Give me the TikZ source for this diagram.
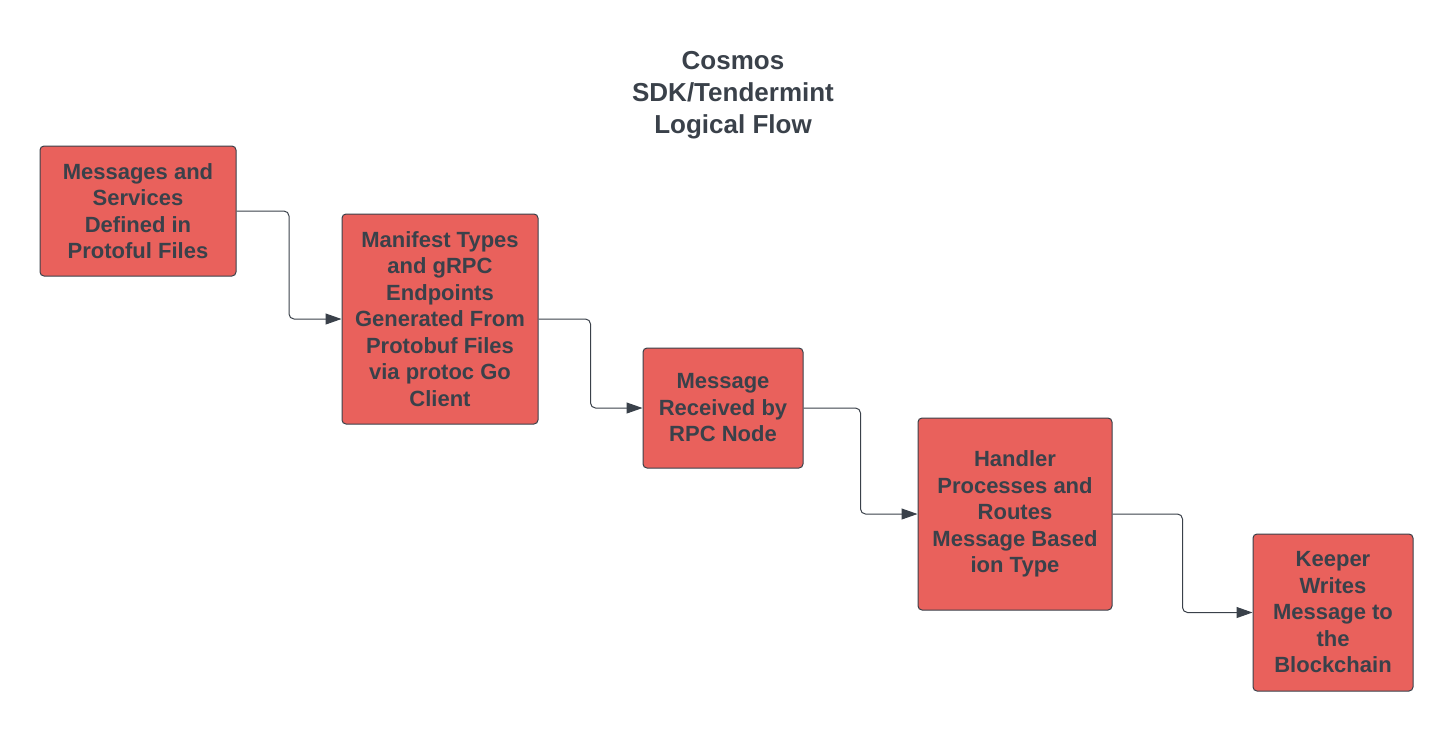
\documentclass[tikz,border=0pt]{standalone}
\usepackage{fontspec}
\setmainfont{Liberation Sans}
\usetikzlibrary{arrows.meta}
\definecolor{boxred}{HTML}{E9615C}
\definecolor{ink}{HTML}{3A414A}
\definecolor{edge}{HTML}{3A414A}
\tikzset{
  stepbox/.style={draw=edge, line width=1pt, fill=boxred, rounded corners=4pt,
    text=ink, font=\fontsize{22}{26.5}\selectfont\bfseries, align=center, inner sep=0pt},
  flow/.style={draw=edge, line width=1pt, rounded corners=5pt,
    -{Triangle[length=16pt,width=11pt]}},
}
\begin{document}
\begin{tikzpicture}[x=1pt,y=-1pt]
\useasboundingbox (0,0) rectangle (1453,732);
\node[text=ink, font=\fontsize{26}{32}\selectfont\bfseries, align=center] (title) at (733,95) {Cosmos\\SDK/Tendermint\\Logical Flow};
\node[stepbox, minimum width=196pt, minimum height=130pt] (b1) at (138,211) {Messages and\\Services\\Defined in\\Protoful Files};
\node[stepbox, minimum width=196pt, minimum height=210pt] (b2) at (440,319) {Manifest Types\\and gRPC\\Endpoints\\Generated From\\Protobuf Files\\via protoc Go\\Client};
\node[stepbox, minimum width=160pt, minimum height=120pt] (b3) at (723,408) {Message\\Received by\\RPC Node};
\node[stepbox, minimum width=194pt, minimum height=192pt] (b4) at (1015,514) {Handler\\Processes and\\Routes\\Message Based\\ion Type};
\node[stepbox, minimum width=160pt, minimum height=157pt] (b5) at (1333,612.5) {Keeper\\Writes\\Message to\\the\\Blockchain};
\draw[flow] (b1.east) -- (289,211) -- (289,319) -- (b2.west);
\draw[flow] (b2.east) -- (590.5,319) -- (590.5,408) -- (b3.west);
\draw[flow] (b3.east) -- (860.5,408) -- (860.5,514) -- (b4.west);
\draw[flow] (b4.east) -- (1182.5,514) -- (1182.5,612.5) -- (b5.west);
\end{tikzpicture}
\end{document}
